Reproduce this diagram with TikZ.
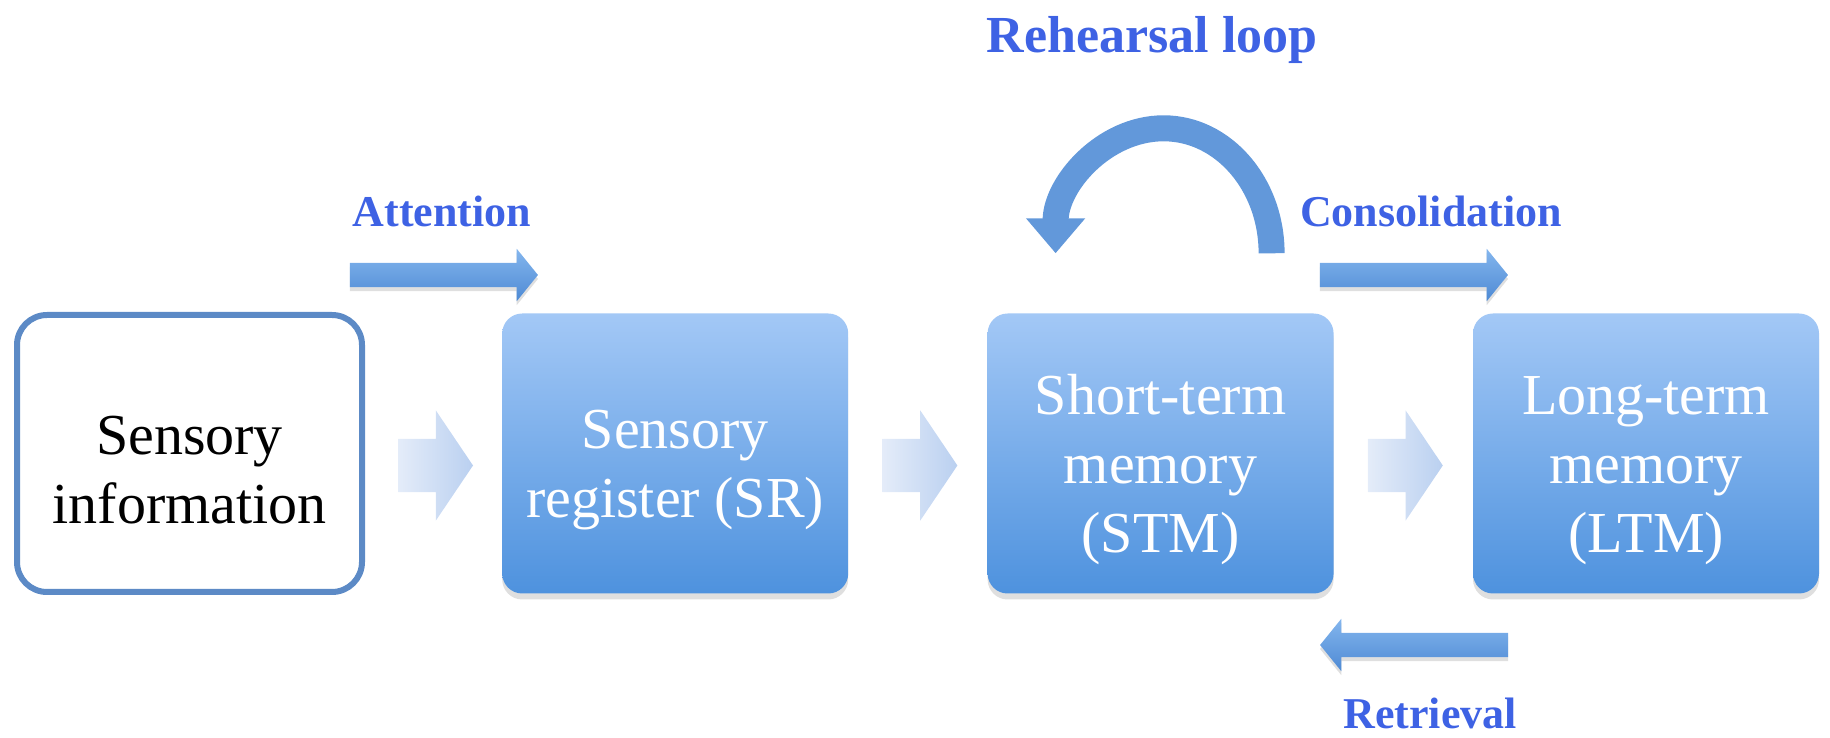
\documentclass[tikz,border=0pt]{standalone}
\usepackage{fontspec}
\setmainfont{Liberation Serif}
\usetikzlibrary{positioning,calc,shapes.arrows,shadows,arrows.meta}

\definecolor{lblblue}{RGB}{62,98,228}
\definecolor{boxtop}{RGB}{163,200,246}
\definecolor{boxbot}{RGB}{78,146,222}
\definecolor{infoborder}{RGB}{92,138,198}
\definecolor{chevl}{RGB}{228,236,249}
\definecolor{chevr}{RGB}{186,208,240}
\definecolor{arrtop}{RGB}{132,182,238}
\definecolor{arrbot}{RGB}{78,138,212}
\definecolor{loopcol}{RGB}{98,152,218}

% hoge eerste regel, zodat de tekst iets lager staat
\newcommand{\boxstrut}{\rule{0pt}{72pt}}

\begin{document}
\begin{tikzpicture}[x=1pt,y=1pt,
    box/.style={rounded corners=20pt, minimum width=346pt, minimum height=280pt,
      top color=boxtop, bottom color=boxbot, text=white, align=center,
      font=\fontsize{58}{69}\selectfont,
      drop shadow={shadow xshift=0pt,shadow yshift=-6pt,opacity=.25}},
    infobox/.style={rounded corners=30pt, draw=infoborder, line width=6pt, fill=white,
      minimum width=345pt, minimum height=277pt, align=center,
      font=\fontsize{58}{69}\selectfont},
    chevron/.style={single arrow, inner xsep=0pt, inner ysep=26.5pt, minimum height=75pt,
      single arrow head extend=28.5pt, single arrow tip angle=112,
      left color=chevl, right color=chevr},
    flow/.style={single arrow, inner xsep=0pt, inner ysep=12pt, minimum height=188pt,
      single arrow head extend=14pt, single arrow tip angle=102,
      top color=arrtop, bottom color=arrbot,
      drop shadow={shadow xshift=0pt,shadow yshift=-4pt,opacity=.25}},
    rehearse/.style={line width=26pt, draw=loopcol, -{Triangle[length=35pt,width=57pt]}},
    lbl/.style={text=lblblue, font=\bfseries\fontsize{44}{48}\selectfont, anchor=base}]

  \useasboundingbox (0,0) rectangle (1830,738);

  % Geheugenblokken
  \node[infobox] (info) at (189.5,284.5) {\boxstrut Sensory\\information};
  \node[box, right=137pt of info] (sr) {\boxstrut Sensory\\register (SR)};
  \node[box, right=139pt of sr] (stm) {\boxstrut Short-term\\memory\\(STM)};
  \node[box, right=139pt of stm] (ltm) {\boxstrut Long-term\\memory\\(LTM)};

  % Pijlen tussen de blokken
  \node[chevron] (c1) at ($(info.east)!.5!(sr.west)+(-7,-12)$) {};
  \node[chevron] (c2) at ($(sr.east)!.5!(stm.west)+(-7,-12)$) {};
  \node[chevron] (c3) at ($(stm.east)!.5!(ltm.west)+(-7,-12)$) {};

  % Processen
  \node[flow] (att) at (439,463) {};
  \node[lbl] (attlbl) at (442,511) {Attention};

  \node[flow] (cons) at (1409,463) {};
  \node[lbl] (conslbl) at (1431,511) {Consolidation};

  \node[flow, shape border rotate=180] (retr) at (1419,93) {};
  \node[lbl] (retrlbl) at (1430,9) {Retrieval};

  % Herhalingslus
  \draw[rehearse] ([shift={(111,60)}]stm.north)
    arc[start angle=0, end angle=180, x radius=108, y radius=125];
  \node[lbl, font=\bfseries\fontsize{52}{56}\selectfont] (rehlbl) at (1152,685.5) {Rehearsal loop};

\end{tikzpicture}
\end{document}
